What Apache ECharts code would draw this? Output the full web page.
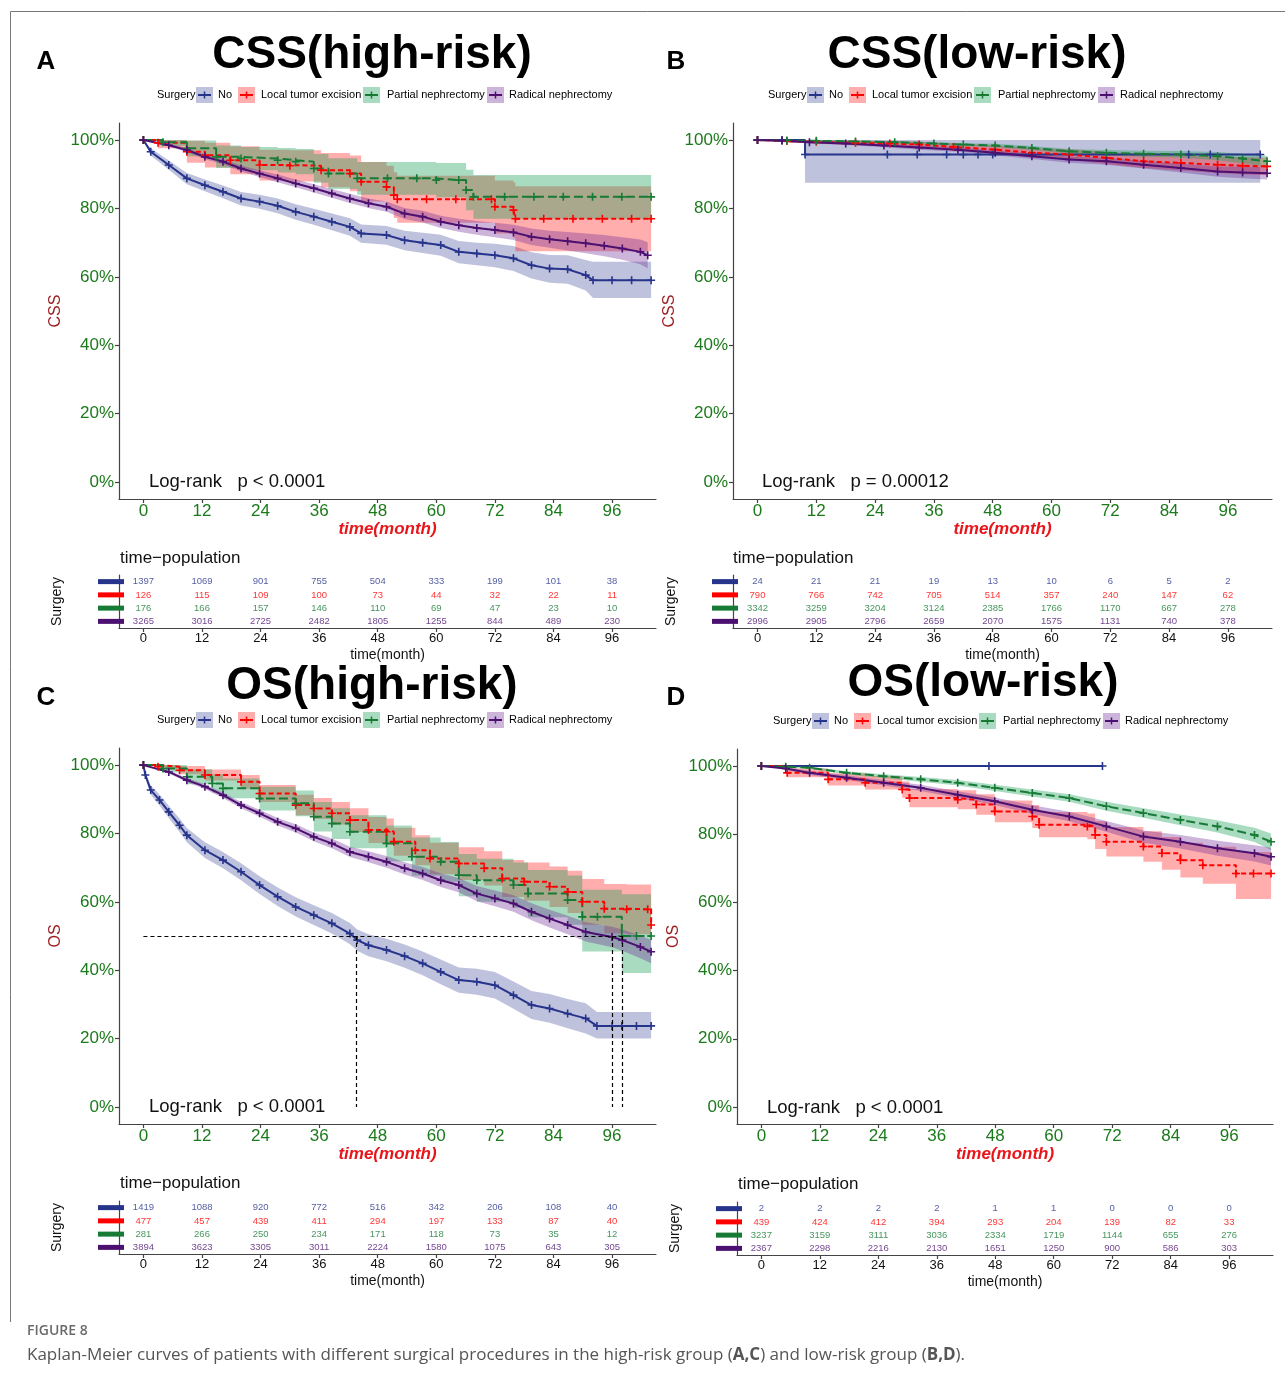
<!DOCTYPE html>
<html><head><meta charset="utf-8">
<script src="https://cdn.jsdelivr.net/npm/echarts@6/dist/echarts.min.js"></script>
<style>html,body{margin:0;padding:0;background:#fff;}#c{width:1285px;height:1373px;}</style>
</head><body><div id="c"></div>
<script>
// ---------------- DATA ----------------
const groups = ['No', 'Local tumor excision', 'Partial nephrectomy', 'Radical nephrectomy'];
const xTicks = [0, 12, 24, 36, 48, 60, 72, 84, 96];
const yTicks = [0, 0.2, 0.4, 0.6, 0.8, 1];
const riskTimes = [0, 12, 24, 36, 48, 60, 72, 84, 96];

// Each row: [time(month), survival, lower CI, upper CI]
// Panel A: CSS (high-risk)
const A_no = [[0,1,1,1],[1.5,0.966,0.955,0.976],[5.2,0.927,0.913,0.94],[8.9,0.888,0.871,0.904],[12.6,0.868,0.85,0.885],[16.3,0.849,0.83,0.867],[20,0.829,0.809,0.848],[23.8,0.82,0.799,0.84],[27.5,0.808,0.786,0.829],[31.2,0.79,0.767,0.812],[34.9,0.776,0.752,0.799],[38.6,0.761,0.736,0.785],[42.3,0.746,0.72,0.771],[44.6,0.727,0.7,0.753],[49.8,0.722,0.694,0.749],[53.5,0.707,0.678,0.735],[57.2,0.7,0.67,0.729],[60.9,0.693,0.662,0.723],[64.6,0.673,0.64,0.705],[68.3,0.668,0.634,0.7],[72,0.663,0.628,0.697],[75.8,0.654,0.617,0.69],[79.5,0.634,0.595,0.672],[83.2,0.624,0.583,0.664],[86.9,0.622,0.58,0.663],[90.6,0.605,0.56,0.649],[92.1,0.59,0.538,0.644],[96,0.59,0.538,0.644],[100,0.59,0.538,0.644],[104,0.59,0.538,0.644]];
const A_lte = [[0,1,1,1],[3,0.992,0.976,1],[8.9,0.966,0.934,0.998],[12.6,0.956,0.92,0.992],[17.8,0.941,0.9,0.982],[23.8,0.927,0.882,0.972],[30,0.925,0.879,0.97],[36.4,0.912,0.862,0.962],[42.3,0.902,0.85,0.955],[44.6,0.878,0.82,0.936],[49.8,0.863,0.8,0.925],[51.3,0.839,0.772,0.906],[52,0.827,0.758,0.896],[58,0.827,0.758,0.896],[64,0.827,0.758,0.896],[71.3,0.827,0.758,0.896],[72,0.805,0.727,0.882],[75.8,0.795,0.714,0.876],[76.2,0.77,0.675,0.865],[82,0.77,0.675,0.865],[88,0.77,0.675,0.865],[94,0.77,0.675,0.865],[100,0.77,0.675,0.865],[104,0.77,0.675,0.865]];
const A_pn = [[0,1,1,1],[4,0.994,0.983,1],[8.9,0.976,0.953,0.999],[14.9,0.951,0.918,0.984],[20,0.946,0.912,0.98],[27.5,0.941,0.905,0.977],[31.2,0.937,0.9,0.974],[34.9,0.917,0.875,0.959],[37.9,0.902,0.857,0.947],[43.8,0.888,0.84,0.936],[50,0.888,0.84,0.936],[56,0.888,0.84,0.936],[60,0.883,0.833,0.933],[64.6,0.883,0.833,0.933],[66.1,0.854,0.795,0.913],[67.6,0.834,0.77,0.898],[74,0.834,0.77,0.898],[80,0.834,0.77,0.898],[86,0.834,0.77,0.898],[92,0.834,0.77,0.898],[98,0.834,0.77,0.898],[104,0.834,0.77,0.898]];
const A_rn = [[0,1,1,1],[5.2,0.985,0.981,0.989],[8.9,0.971,0.965,0.977],[12.6,0.951,0.944,0.958],[16.3,0.937,0.929,0.945],[20,0.917,0.908,0.926],[23.8,0.902,0.892,0.912],[27.5,0.888,0.877,0.899],[31.2,0.873,0.862,0.885],[34.9,0.859,0.847,0.871],[38.6,0.844,0.831,0.857],[42.3,0.829,0.816,0.843],[46.1,0.815,0.801,0.829],[49.8,0.805,0.79,0.82],[53.5,0.785,0.769,0.801],[57.2,0.776,0.759,0.793],[60.9,0.761,0.743,0.779],[64.6,0.751,0.732,0.77],[68.3,0.743,0.723,0.763],[72,0.737,0.716,0.758],[75.8,0.73,0.708,0.752],[79.5,0.717,0.693,0.741],[83.2,0.71,0.685,0.735],[86.9,0.704,0.677,0.731],[90.6,0.698,0.669,0.727],[94.4,0.691,0.66,0.722],[98.1,0.683,0.65,0.716],[101.8,0.673,0.637,0.709],[103.3,0.663,0.625,0.701]];

// Panel B: CSS (low-risk)
const B_no = [[0,1,1,1],[5,1,1,1],[9.7,0.958,0.875,1],[26.5,0.958,0.875,1],[32.6,0.958,0.875,1],[38.6,0.958,0.875,1],[42,0.958,0.875,1],[45,0.958,0.875,1],[48,0.958,0.875,1],[88,0.958,0.875,1],[92.4,0.958,0.875,1],[102.6,0.958,0.875,1]];
const B_lte = [[0,1,1,1],[6,0.997,0.993,1],[12,0.995,0.99,1],[20,0.992,0.986,0.998],[27,0.99,0.983,0.997],[33,0.987,0.979,0.995],[40,0.98,0.97,0.99],[48.5,0.972,0.96,0.984],[56,0.963,0.949,0.977],[63.6,0.958,0.943,0.973],[71.2,0.948,0.93,0.966],[78.8,0.938,0.918,0.958],[86.4,0.933,0.911,0.955],[93.9,0.928,0.904,0.952],[99,0.925,0.9,0.95],[104,0.923,0.897,0.949]];
const B_pn = [[0,1,1,1],[6,0.999,0.998,1],[12,0.998,0.996,1],[20,0.996,0.993,0.999],[28,0.994,0.991,0.997],[36,0.99,0.986,0.994],[42,0.987,0.983,0.991],[48.5,0.984,0.979,0.989],[56,0.977,0.971,0.983],[63.6,0.967,0.96,0.974],[71.2,0.963,0.955,0.971],[78.8,0.96,0.951,0.969],[86.4,0.958,0.948,0.968],[93.9,0.953,0.941,0.965],[99,0.946,0.932,0.96],[104,0.938,0.922,0.954]];
const B_rn = [[0,1,1,1],[5,0.998,0.996,1],[10.6,0.994,0.991,0.997],[18,0.99,0.986,0.994],[25.8,0.984,0.979,0.989],[33,0.978,0.972,0.984],[40.9,0.972,0.966,0.978],[48.5,0.963,0.956,0.97],[56,0.953,0.945,0.961],[63.6,0.943,0.934,0.952],[71.2,0.938,0.928,0.948],[78.8,0.928,0.917,0.939],[86.4,0.918,0.905,0.931],[93.9,0.908,0.893,0.923],[99,0.905,0.888,0.922],[104,0.903,0.885,0.921]];

// Panel C: OS (high-risk)
const C_no = [[0,1,1,1],[0.4,0.971,0.962,0.98],[1.5,0.927,0.914,0.94],[3.3,0.898,0.882,0.914],[5.2,0.863,0.845,0.881],[7.4,0.824,0.804,0.844],[8.9,0.795,0.774,0.816],[12.6,0.751,0.728,0.774],[16.3,0.722,0.698,0.746],[20,0.688,0.663,0.713],[23.8,0.649,0.623,0.675],[27.5,0.615,0.588,0.642],[31.2,0.585,0.557,0.613],[34.9,0.561,0.532,0.59],[38.6,0.537,0.507,0.567],[42.3,0.507,0.476,0.538],[43.8,0.488,0.457,0.519],[46.1,0.473,0.441,0.505],[49.8,0.459,0.426,0.492],[53.5,0.441,0.407,0.475],[57.2,0.42,0.385,0.455],[60.9,0.395,0.359,0.431],[64.6,0.371,0.334,0.408],[68.3,0.366,0.328,0.404],[72,0.356,0.317,0.395],[75.8,0.327,0.287,0.367],[79.5,0.298,0.257,0.339],[83.2,0.288,0.246,0.33],[86.9,0.273,0.23,0.316],[90.6,0.259,0.215,0.303],[92.9,0.237,0.2,0.278],[96,0.237,0.2,0.278],[98,0.237,0.2,0.278],[101,0.237,0.2,0.278],[104,0.237,0.2,0.278]];
const C_lte = [[0,1,1,1],[3,0.995,0.988,1],[7.4,0.985,0.973,0.997],[12.6,0.971,0.955,0.987],[20,0.951,0.931,0.971],[23.8,0.917,0.892,0.942],[31.2,0.883,0.853,0.913],[34.9,0.873,0.842,0.904],[38.6,0.859,0.826,0.892],[42.3,0.839,0.804,0.874],[46.1,0.81,0.772,0.848],[49.8,0.805,0.766,0.844],[51.3,0.776,0.735,0.817],[55.7,0.751,0.707,0.795],[58.7,0.727,0.681,0.773],[64.6,0.712,0.664,0.76],[69.8,0.698,0.648,0.748],[73.5,0.668,0.614,0.722],[78,0.659,0.603,0.715],[83.2,0.644,0.585,0.703],[86.9,0.629,0.567,0.691],[89.9,0.6,0.533,0.667],[94.4,0.58,0.508,0.652],[99,0.578,0.505,0.651],[103.3,0.578,0.505,0.651],[104,0.532,0.5,0.645]];
const C_pn = [[0,1,1,1],[4,0.99,0.978,1],[8.9,0.966,0.944,0.988],[14.1,0.946,0.919,0.973],[16.3,0.932,0.903,0.961],[23.8,0.902,0.867,0.937],[31.2,0.888,0.85,0.926],[34.9,0.849,0.806,0.892],[38.6,0.829,0.784,0.874],[42.3,0.805,0.757,0.853],[49.8,0.771,0.719,0.823],[55,0.732,0.676,0.788],[60.9,0.717,0.659,0.775],[64.6,0.678,0.616,0.74],[68.3,0.663,0.6,0.726],[75.8,0.649,0.583,0.715],[78.8,0.624,0.555,0.693],[86.9,0.605,0.533,0.677],[89.9,0.556,0.455,0.635],[93,0.556,0.455,0.635],[98,0.5,0.392,0.622],[101,0.5,0.392,0.622],[104,0.5,0.392,0.622]];
const C_rn = [[0,1,1,1],[5.2,0.98,0.976,0.984],[8.9,0.956,0.95,0.962],[12.6,0.937,0.93,0.944],[16.3,0.912,0.904,0.92],[20,0.883,0.874,0.892],[23.8,0.859,0.849,0.869],[27.5,0.834,0.823,0.845],[31.2,0.815,0.803,0.827],[34.9,0.79,0.777,0.803],[38.6,0.771,0.757,0.785],[42.3,0.746,0.731,0.761],[46.1,0.732,0.716,0.748],[49.8,0.717,0.7,0.734],[53.5,0.698,0.68,0.716],[57.2,0.683,0.664,0.702],[60.9,0.663,0.643,0.683],[64.6,0.649,0.628,0.67],[68.3,0.624,0.602,0.646],[72,0.61,0.587,0.633],[75.8,0.595,0.571,0.619],[79.5,0.571,0.546,0.596],[83.2,0.551,0.525,0.577],[86.9,0.532,0.505,0.559],[90.6,0.512,0.484,0.54],[96,0.497,0.467,0.527],[98.1,0.488,0.457,0.519],[101.8,0.468,0.435,0.501],[104,0.454,0.42,0.488]];

// Panel D: OS (low-risk)
const D_no = [[0,1,1,1],[46.7,1,1,1],[70,1,1,1]];
const D_lte = [[0,1,1,1],[5.3,0.98,0.967,0.993],[13.7,0.961,0.943,0.979],[21.3,0.951,0.931,0.971],[28.9,0.931,0.907,0.955],[30.4,0.906,0.879,0.933],[40.3,0.901,0.873,0.929],[44.1,0.887,0.857,0.917],[47.9,0.867,0.835,0.899],[55.6,0.852,0.818,0.886],[57,0.828,0.791,0.865],[66.9,0.823,0.785,0.861],[68.5,0.798,0.757,0.839],[70.8,0.778,0.735,0.821],[78.4,0.764,0.719,0.809],[82.2,0.744,0.696,0.792],[86,0.724,0.673,0.775],[90.6,0.709,0.655,0.763],[97.4,0.685,0.61,0.748],[101,0.685,0.61,0.748],[104.6,0.685,0.61,0.748]];
const D_pn = [[0,1,1,1],[5,0.998,0.996,1],[9.9,0.995,0.992,0.998],[17.5,0.98,0.975,0.985],[25.1,0.97,0.964,0.976],[32.7,0.961,0.954,0.968],[40.3,0.951,0.943,0.959],[47.9,0.936,0.927,0.945],[55.6,0.921,0.911,0.931],[63.2,0.906,0.895,0.917],[70.8,0.882,0.869,0.895],[78.4,0.862,0.848,0.876],[86,0.842,0.826,0.858],[93.6,0.823,0.805,0.841],[101.2,0.798,0.777,0.819],[104.6,0.778,0.754,0.802]];
const D_rn = [[0,1,1,1],[5,0.993,0.989,0.997],[9.9,0.98,0.974,0.986],[17.5,0.966,0.959,0.973],[25.1,0.951,0.943,0.959],[32.7,0.936,0.927,0.945],[40.3,0.916,0.906,0.926],[47.9,0.897,0.886,0.908],[55.6,0.872,0.859,0.885],[63.2,0.852,0.838,0.866],[70.8,0.823,0.807,0.839],[78.4,0.793,0.775,0.811],[86,0.778,0.758,0.798],[93.6,0.759,0.737,0.781],[101.2,0.744,0.72,0.768],[104.6,0.734,0.708,0.76]];

// Number at risk (rows: No, Local, Partial, Radical)
const riskA = [[1397,1069,901,755,504,333,199,101,38],[126,115,109,100,73,44,32,22,11],[176,166,157,146,110,69,47,23,10],[3265,3016,2725,2482,1805,1255,844,489,230]];
const riskB = [[24,21,21,19,13,10,6,5,2],[790,766,742,705,514,357,240,147,62],[3342,3259,3204,3124,2385,1766,1170,667,278],[2996,2905,2796,2659,2070,1575,1131,740,378]];
const riskC = [[1419,1088,920,772,516,342,206,108,40],[477,457,439,411,294,197,133,87,40],[281,266,250,234,171,118,73,35,12],[3894,3623,3305,3011,2224,1580,1075,643,305]];
const riskD = [[2,2,2,2,1,1,0,0,0],[439,424,412,394,293,204,139,82,33],[3237,3159,3111,3036,2334,1719,1144,655,276],[2367,2298,2216,2130,1651,1250,900,586,303]];

// Median survival reference lines in panel C (months)
const medianC = [43.7, 96, 98];

// ---------------- STYLE / LAYOUT ----------------
const FONT = '"Liberation Sans", Arial, sans-serif';
const lineColors = ['#27348B', '#FF0000', '#177A35', '#4B1070'];
const bandColors = ['rgba(39,52,139,0.30)', 'rgba(255,0,0,0.32)', 'rgba(30,160,90,0.38)', 'rgba(110,40,150,0.35)'];
const dashes = ['solid', [5, 3], [9, 4], 'solid'];
const tickGreen = '#1B7A1B';
const plusPath = 'path://M4,0H6V4H10V6H6V10H4V6H0V4H4Z';

// step: coarse visible steps; fine: large-n curves whose many tiny steps read as a line
const panels = [
  {letter:'A', lx:46, ly:62, title:'CSS(high-risk)', tx:372, ty:55, legX:157, legY:95, ylab:'CSS', pval:'Log-rank   p < 0.0001',
   curves:[A_no, A_lte, A_pn, A_rn], risk:riskA, mode:['fine','step','step','fine'],
   main:{left:119, top:123, width:537, height:376}, lr:[149,482], tp:[120,558], table:{left:119, top:575, width:537, height:53}},
  {letter:'B', lx:676, ly:62, title:'CSS(low-risk)', tx:977, ty:55, legX:768, legY:95, ylab:'CSS', pval:'Log-rank   p = 0.00012',
   curves:[B_no, B_lte, B_pn, B_rn], risk:riskB, mode:['step','fine','fine','fine'],
   main:{left:733, top:123, width:539, height:376}, lr:[762,482], tp:[733,558], table:{left:733, top:575, width:539, height:53}},
  {letter:'C', lx:46, ly:698, title:'OS(high-risk)', tx:372, ty:686, legX:157, legY:720, ylab:'OS', pval:'Log-rank   p < 0.0001',
   curves:[C_no, C_lte, C_pn, C_rn], risk:riskC, medians:medianC, mode:['fine','step','step','fine'],
   main:{left:119, top:748, width:537, height:376}, lr:[149,1107], tp:[120,1183], table:{left:119, top:1201, width:537, height:53}},
  {letter:'D', lx:676, ly:698, title:'OS(low-risk)', tx:983, ty:683, legX:773, legY:721, ylab:'OS', pval:'Log-rank   p < 0.0001',
   curves:[D_no, D_lte, D_pn, D_rn], risk:riskD, mode:['step','step','fine','fine'],
   main:{left:737, top:749, width:536, height:375}, lr:[767,1108], tp:[738,1184], table:{left:737, top:1202, width:536, height:53}}
];

function txt(text, x, y, size, opts) {
  opts = opts || {};
  return {type:'text', silent:true, style:Object.assign({text:text, x:x, y:y, fill:'#000', fontSize:size, fontFamily:FONT,
    align:'left', verticalAlign:'middle'}, opts)};
}

// Confidence band polygon, drawn through the axis scales (api.coord)
function bandRenderer(arr, color, stepped) {
  return function(params, api) {
    if (params.dataIndex !== 0) return null;
    const up = [], lo = [];
    for (let i = 0; i < arr.length; i++) {
      up.push(api.coord([arr[i][0], arr[i][3]]));
      lo.push(api.coord([arr[i][0], arr[i][2]]));
      if (stepped && i < arr.length - 1) {
        up.push(api.coord([arr[i+1][0], arr[i][3]]));
        lo.push(api.coord([arr[i+1][0], arr[i][2]]));
      }
    }
    const pts = up.concat(lo.reverse());
    return {type:'polygon', shape:{points:pts}, style:{fill:color}, silent:true};
  };
}

const option = {animation:false, backgroundColor:'#fff', grid:[], xAxis:[], yAxis:[], series:[], graphic:[]};
const axisLineStyle = {color:'#444', width:1.2};

// frame
option.graphic.push({type:'polyline', silent:true, shape:{points:[[10.5,1322],[10.5,11.5],[1285,11.5]]}, style:{stroke:'#777', lineWidth:1, fill:null}});

panels.forEach(function(p){
  // ---- main KM grid
  const gi = option.grid.length;
  option.grid.push(Object.assign({containLabel:false, outerBoundsMode:'none'}, p.main));
  option.xAxis.push({gridIndex:gi, type:'value', min:-5, max:105,
    axisLine:{show:true, onZero:false, lineStyle:axisLineStyle},
    axisTick:{show:true, customValues:xTicks, length:4, lineStyle:axisLineStyle},
    axisLabel:{customValues:xTicks, color:tickGreen, fontSize:17, fontFamily:FONT, margin:4},
    splitLine:{show:false},
    name:'time(month)', nameLocation:'middle', nameGap:21,
    nameTextStyle:{color:'#E8161B', fontWeight:'bold', fontStyle:'italic', fontSize:17, fontFamily:FONT}});
  option.yAxis.push({gridIndex:gi, type:'value', min:-0.05, max:1.05,
    axisLine:{show:true, onZero:false, lineStyle:axisLineStyle},
    axisTick:{show:true, customValues:yTicks, length:4, lineStyle:axisLineStyle},
    axisLabel:{customValues:yTicks, color:tickGreen, fontSize:17, fontFamily:FONT, margin:5,
      formatter:function(v){return Math.round(v*100)+'%';}},
    splitLine:{show:false},
    name:p.ylab, nameLocation:'middle', nameGap:55, nameRotate:90,
    nameTextStyle:{color:'#9B1B1F', fontSize:16, fontFamily:FONT}});

  // CI bands
  p.curves.forEach(function(arr, k){
    option.series.push({type:'custom', xAxisIndex:gi, yAxisIndex:gi, silent:true, z:1,
      renderItem:bandRenderer(arr, bandColors[k], p.mode[k] === 'step'), encode:{x:0, y:[2,3]},
      clip:true, data:arr});
  });
  // survival curves
  p.curves.forEach(function(arr, k){
    const s = {type:'line', name:groups[k], xAxisIndex:gi, yAxisIndex:gi, step:(p.mode[k] === 'step' ? 'end' : false),
      silent:true, z:3, showSymbol:true, symbol:plusPath, symbolSize:8, symbolKeepAspect:true,
      lineStyle:{color:lineColors[k], width:2, type:dashes[k]}, itemStyle:{color:lineColors[k]},
      data:arr.map(function(d){return [d[0], d[1]];})};
    if (k === 0 && p.medians) {
      const md = [];
      const mx = Math.max.apply(null, p.medians);
      md.push([{coord:[0,0.5]},{coord:[mx,0.5]}]);
      p.medians.forEach(function(m){ md.push([{coord:[m,0.5]},{coord:[m,0]}]); });
      s.markLine = {silent:true, symbol:['none','none'], label:{show:false}, animation:false,
        lineStyle:{type:[4,3], color:'#000', width:1.2}, data:md};
    }
    option.series.push(s);
  });

  // ---- risk table grid
  const ti = option.grid.length;
  option.grid.push(Object.assign({containLabel:false, outerBoundsMode:'none'}, p.table));
  option.xAxis.push({gridIndex:ti, type:'value', min:-5, max:105,
    axisLine:{show:true, onZero:false, lineStyle:axisLineStyle},
    axisTick:{show:true, customValues:xTicks, length:4, lineStyle:axisLineStyle},
    axisLabel:{customValues:xTicks, color:'#111', fontSize:13, fontFamily:FONT, margin:4},
    splitLine:{show:false},
    name:'time(month)', nameLocation:'middle', nameGap:20,
    nameTextStyle:{color:'#111', fontSize:14, fontFamily:FONT}});
  const rich = {};
  lineColors.forEach(function(c, k){ rich['r'+k] = {backgroundColor:c, width:26, height:5}; });
  option.yAxis.push({gridIndex:ti, type:'category', data:groups, inverse:true,
    axisLine:{show:true, onZero:false, lineStyle:axisLineStyle},
    axisTick:{show:false},
    axisLabel:{margin:-5, interval:0, hideOverlap:false, formatter:function(v, idx){return '{r'+idx+'|}';}, rich:rich},
    splitLine:{show:false},
    name:'Surgery', nameLocation:'middle', nameGap:55, nameRotate:90,
    nameTextStyle:{color:'#111', fontSize:14, fontFamily:FONT}});
  p.risk.forEach(function(counts, k){
    option.series.push({type:'scatter', xAxisIndex:ti, yAxisIndex:ti, silent:true, symbolSize:1,
      itemStyle:{color:'rgba(0,0,0,0)'},
      label:{show:true, position:'inside', formatter:function(pr){return String(pr.value[2]);},
        color:lineColors[k], fontSize:9.5, fontFamily:FONT},
      data:riskTimes.map(function(t, i){return [t, k, counts[i]];})});
  });

  // ---- texts
  option.graphic.push(txt(p.letter, p.lx, p.ly, 26, {fontWeight:'bold', align:'center'}));
  option.graphic.push(txt(p.title, p.tx, p.ty, 46, {fontWeight:'bold', align:'center'}));
  option.graphic.push(txt(p.pval, p.lr[0], p.lr[1], 18.5, {fill:'#111'}));
  option.graphic.push(txt('time\u2212population', p.tp[0], p.tp[1], 17, {fill:'#111'}));
  // legend
  const x0 = p.legX, yc = p.legY;
  option.graphic.push(txt('Surgery', x0, yc, 11));
  const offs = [[39,61],[81,104],[206,230],[330,352]];
  groups.forEach(function(g, k){
    const bx = x0 + offs[k][0];
    option.graphic.push({type:'rect', silent:true, shape:{x:bx, y:yc-8, width:17, height:16}, style:{fill:bandColors[k]}});
    option.graphic.push({type:'line', silent:true, shape:{x1:bx+2, y1:yc, x2:bx+15, y2:yc}, style:{stroke:lineColors[k], lineWidth:2}});
    option.graphic.push({type:'line', silent:true, shape:{x1:bx+8.5, y1:yc-3.5, x2:bx+8.5, y2:yc+3.5}, style:{stroke:lineColors[k], lineWidth:1.5}});
    option.graphic.push(txt(g, x0 + offs[k][1], yc, 11));
  });
});

// caption
option.graphic.push(txt('FIGURE 8', 27, 1331, 14, {fill:'#6a6a6a', fontFamily:'"Open Sans", sans-serif', fontWeight:600}));
option.graphic.push({type:'text', silent:true, style:{
  text:'Kaplan-Meier curves of patients with different surgical procedures in the high-risk group ({b|A,C}) and low-risk group ({b|B,D}).',
  x:27, y:1355, fill:'#555', fontSize:17, fontFamily:'"Open Sans", sans-serif', align:'left', verticalAlign:'middle',
  rich:{b:{fontWeight:'bold', fill:'#555', fontSize:17, fontFamily:'"Open Sans", sans-serif'}}}});

const chart = echarts.init(document.getElementById('c'), null, {renderer:'canvas'});
chart.setOption(option);
</script></body></html>
